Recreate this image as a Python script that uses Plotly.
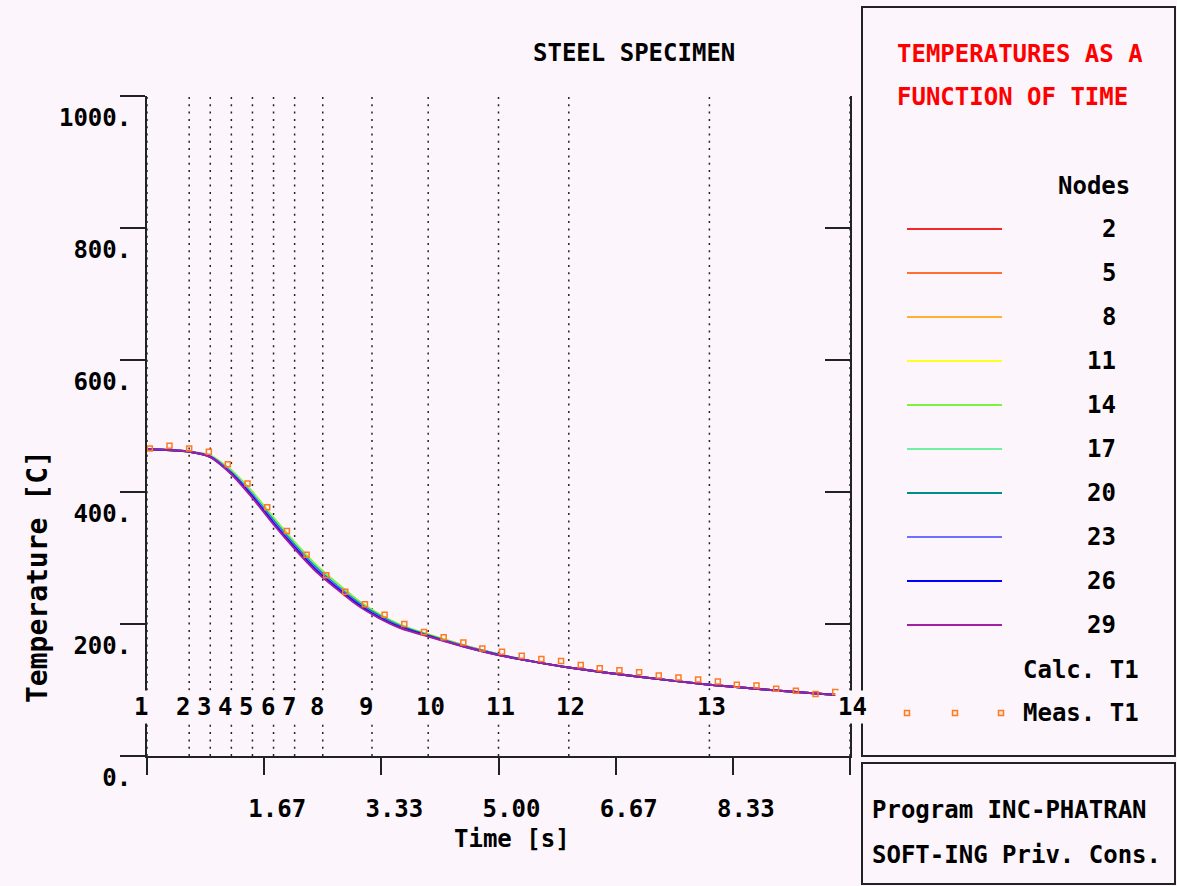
import plotly.graph_objects as go

# ---------------- data ----------------
calc_time = [0, 0.6, 0.9, 1.2, 1.5, 1.8, 2.1, 2.4, 2.7, 3.0, 3.3, 3.6, 4.0, 4.5, 5.0, 5.5, 6.0, 7.0, 8.0, 9.0, 10.0]

node_ids = [2, 5, 8, 11, 14, 17, 20, 23, 26, 29]
node_02 = [465, 461, 454, 430, 397, 358, 321, 287, 259, 233, 213, 197, 183, 167, 154, 143, 134, 120, 108, 99, 91]
node_05 = [465, 461, 455, 431, 398, 359, 322, 288, 260, 234, 214, 198, 183, 168, 154, 143, 134, 120, 108, 99, 91]
node_08 = [465, 461, 455, 431, 399, 360, 323, 289, 261, 235, 214, 198, 184, 168, 154, 143, 134, 120, 108, 99, 91]
node_11 = [465, 461, 455, 432, 400, 361, 324, 290, 262, 235, 215, 198, 184, 168, 154, 143, 134, 120, 108, 99, 91]
node_14 = [465, 461, 455, 433, 400, 361, 324, 290, 262, 236, 215, 199, 184, 168, 154, 143, 134, 120, 108, 99, 91]
node_17 = [465, 461, 454, 431, 398, 359, 322, 288, 260, 234, 214, 197, 183, 167, 154, 143, 134, 120, 108, 99, 91]
node_20 = [465, 461, 454, 430, 396, 357, 320, 286, 258, 233, 213, 197, 183, 167, 154, 143, 134, 120, 108, 99, 91]
node_23 = [465, 461, 454, 429, 395, 355, 318, 284, 257, 231, 211, 196, 182, 167, 153, 143, 134, 120, 108, 99, 91]
node_26 = [465, 461, 453, 428, 393, 353, 316, 282, 255, 230, 210, 195, 182, 166, 153, 143, 134, 120, 108, 99, 91]
node_29 = [465, 461, 453, 427, 391, 351, 314, 280, 253, 228, 209, 194, 181, 166, 153, 143, 134, 120, 108, 99, 91]
node_series = [node_02, node_05, node_08, node_11, node_14, node_17, node_20, node_23, node_26, node_29]
node_colors = ["#F02828", "#FF7030", "#FFB030", "#FFFF20", "#80F040",
               "#70F0A0", "#008C8C", "#7070FF", "#0000FF", "#A020A0"]

meas_time = [0.04, 0.32, 0.60, 0.88, 1.15, 1.43, 1.71, 1.99, 2.27, 2.55, 2.82, 3.10,
             3.38, 3.66, 3.94, 4.22, 4.50, 4.77, 5.05, 5.33, 5.61, 5.89, 6.17, 6.44,
             6.72, 7.00, 7.28, 7.56, 7.84, 8.12, 8.39, 8.67, 8.95, 9.23, 9.51, 9.79]
meas_t1 = [466, 470, 466, 461, 442, 413, 377, 341, 305, 274, 249, 230,
           214, 200, 188, 180, 172, 163, 158, 152, 147, 144, 138, 133,
           130, 127, 122, 119, 116, 113, 108, 107, 102, 99, 94, 97]

step_labels = [1, 2, 3, 4, 5, 6, 7, 8, 9, 10, 11, 12, 13, 14]
step_times = [0, 0.6, 0.9, 1.2, 1.5, 1.8, 2.1, 2.5, 3.2, 4.0, 5.0, 6.0, 8.0, 10.0]

x_tickvals = [0, 5 / 3, 10 / 3, 5, 20 / 3, 25 / 3, 10]
x_ticktext = ["", "1.67", "3.33", "5.00", "6.67", "8.33", ""]
y_tickvals = [0, 200, 400, 600, 800, 1000]
y_ticktext = ["0.", "200.", "400.", "600.", "800.", "1000."]

# ---------------- layout helpers ----------------
W, H = 1177, 886
L, R, T, B = 147, 850, 96, 756
BG = "#FCF5FC"
FONT = "DejaVu Sans Mono"


def px(x):
    return (x - L) / (R - L)


def py(y):
    return (B - y) / (B - T)


def fnt(size=24, color="black"):
    return dict(family=FONT, size=size, color=color, weight="bold")


fig = go.Figure()

for vals, col in zip(node_series, node_colors):
    fig.add_trace(go.Scatter(x=calc_time, y=vals, mode="lines",
                             line=dict(color=col, width=2, shape="spline", smoothing=0.6),
                             showlegend=False, hoverinfo="skip"))

fig.add_trace(go.Scatter(x=meas_time, y=meas_t1, mode="markers",
                         marker=dict(symbol="square-open", size=5, color="#FF7A20",
                                     line=dict(width=1.5, color="#FF7A20")),
                         showlegend=False, hoverinfo="skip"))

# dummy trace for right axis
fig.add_trace(go.Scatter(x=[0], y=[0], yaxis="y2", mode="markers",
                         marker=dict(opacity=0), showlegend=False, hoverinfo="skip"))

shapes = []
for t in step_times:
    shapes.append(dict(type="line", xref="x", yref="y", x0=t, x1=t, y0=0, y1=1000,
                       layer="below", line=dict(color="#222222", width=1.5, dash="2px,5.3px")))

# legend boxes
shapes.append(dict(type="rect", xref="paper", yref="paper", x0=px(862), x1=px(1175),
                   y0=py(756), y1=py(7), line=dict(color="#222222", width=2)))
shapes.append(dict(type="rect", xref="paper", yref="paper", x0=px(862), x1=px(1175),
                   y0=py(884), y1=py(763), line=dict(color="#222222", width=2)))

annotations = []


def txt(text, x, y, color="black", xanchor="center", size=24, **kw):
    annotations.append(dict(text=text, x=px(x), y=py(y), xref="paper", yref="paper",
                            showarrow=False, xanchor=xanchor, yanchor="middle",
                            font=fnt(size, color), **kw))


txt("STEEL SPECIMEN", 634, 53)
txt("TEMPERATURES AS A", 895, 54, color="#FF0000", xanchor="left")
txt("FUNCTION OF TIME", 895, 97, color="#FF0000", xanchor="left")
txt("Nodes", 1132, 186, xanchor="right")

for i, (nid, col) in enumerate(zip(node_ids, node_colors)):
    yy = 229 + 44 * i
    shapes.append(dict(type="line", xref="paper", yref="paper", x0=px(907), x1=px(1002),
                       y0=py(yy), y1=py(yy), line=dict(color=col, width=2)))
    txt(str(nid), 1118, yy, xanchor="right")

txt("Calc. T1", 1021, 670, xanchor="left")
txt("Meas. T1", 1021, 713, xanchor="left")
for mx in [907, 955, 1001]:
    shapes.append(dict(type="rect", xref="paper", yref="paper", x0=px(mx - 2.5), x1=px(mx + 2.5),
                       y0=py(713 + 2.5), y1=py(713 - 2.5),
                       line=dict(color="#FF7A20", width=1.5), fillcolor="#FFE8D8"))

txt("Program INC-PHATRAN", 870, 810, xanchor="left")
txt("SOFT-ING Priv. Cons.", 870, 855, xanchor="left")

txt("Time [s]", 512, 839)
txt("Temperature [C]", 37, 576, textangle=-90, size=28)

for lab, t in zip(step_labels, step_times):
    annotations.append(dict(text=str(lab), x=t, y=py(707), xref="x", yref="paper",
                            showarrow=False, xanchor="center", yanchor="middle",
                            xshift=-6 if lab < 10 else 2,
                            bgcolor=BG, borderpad=2,
                            font=fnt()))

fig.update_layout(
    width=W, height=H,
    margin=dict(l=L, r=W - R, t=T, b=H - B, pad=0),
    paper_bgcolor=BG, plot_bgcolor=BG,
    showlegend=False,
    font=fnt(),
    xaxis=dict(range=[0, 10], showgrid=False, zeroline=False, showline=True,
               linecolor="#222222", linewidth=2, ticks="outside", ticklen=17,
               tickwidth=2, tickcolor="#222222", tickvals=x_tickvals, ticktext=x_ticktext,
               tickfont=fnt(), ticklabelshift=13, ticklabelstandoff=13),
    yaxis=dict(range=[0, 1000], showgrid=False, zeroline=False, showline=True,
               linecolor="#222222", linewidth=2, ticks="outside", ticklen=25,
               tickwidth=2, tickcolor="#222222", tickvals=y_tickvals, ticktext=y_ticktext,
               tickfont=fnt(), ticklabelshift=22, ticklabelstandoff=-16),
    yaxis2=dict(range=[0, 1000], overlaying="y", side="right", showgrid=False,
                zeroline=False, showline=True, linecolor="#222222", linewidth=2,
                ticks="inside", ticklen=25, tickwidth=2, tickcolor="#222222",
                tickvals=y_tickvals, showticklabels=False),
    shapes=shapes,
    annotations=annotations,
)

fig.write_html("out.html")
